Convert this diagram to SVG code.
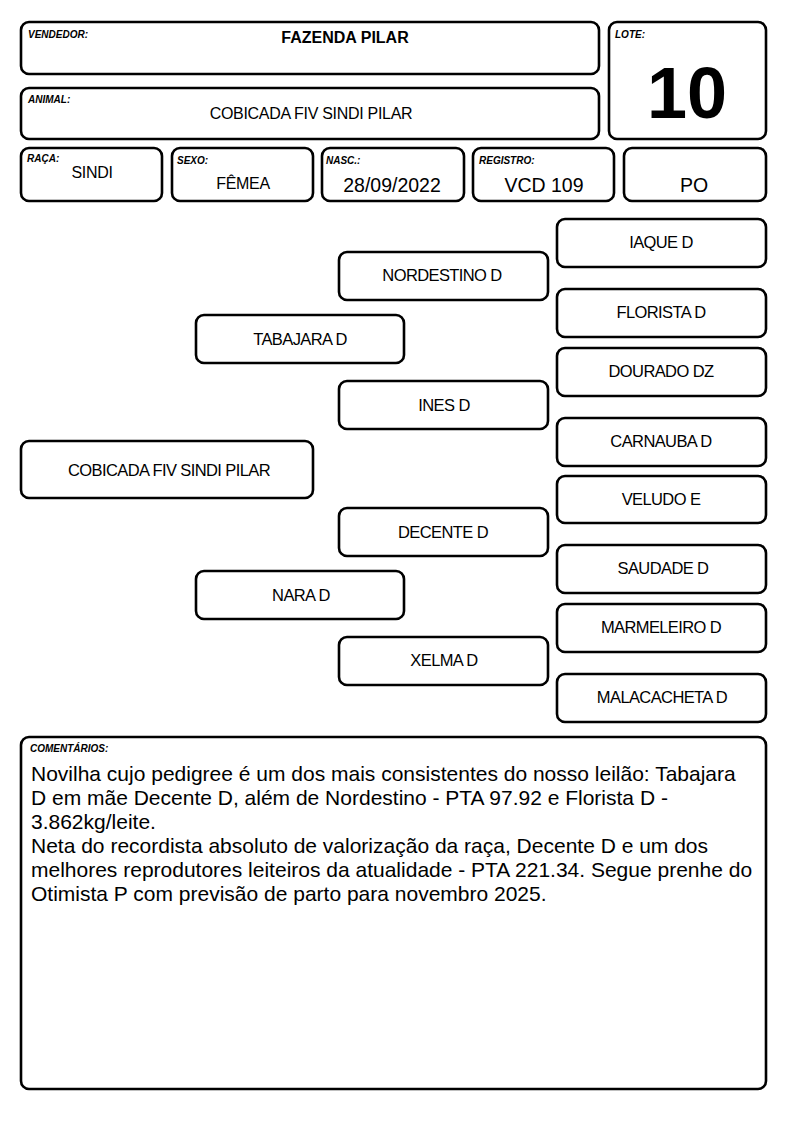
<svg xmlns="http://www.w3.org/2000/svg" width="794" height="1123" viewBox="0 0 794 1123">
<style>
rect{fill:#fff;stroke:#000;stroke-width:2.6}
text{font-family:"Liberation Sans",Arial,sans-serif;fill:#000}
.lb{font-size:10px;font-weight:bold;font-style:italic}
.v{font-size:16px;text-anchor:middle}
.v18{font-size:19.5px;text-anchor:middle}
.p{font-size:16.5px;letter-spacing:-0.6px;text-anchor:middle}
.c{font-size:21px}
</style>
<rect x="0" y="0" width="794" height="1123" style="stroke:none"/>
<g id="vendedor"><rect x="21" y="22" width="578" height="52" rx="8"/><text class="lb" x="28" y="38">VENDEDOR:</text><text class="v" x="345" y="43" font-weight="bold">FAZENDA PILAR</text></g>
<g id="animal"><rect x="21" y="88" width="578" height="51" rx="8"/><text class="lb" x="28" y="103">ANIMAL:</text><text class="v" x="311" y="119" font-size="16.5" letter-spacing="-0.3">COBICADA FIV SINDI PILAR</text></g>
<g id="lote"><rect x="609" y="22" width="157" height="117" rx="8"/><text class="lb" x="615" y="38">LOTE:</text><text x="687" y="118" font-size="72" font-weight="bold" text-anchor="middle">10</text></g>
<g id="raca"><rect x="21" y="148" width="141" height="53" rx="8"/><text class="lb" x="27" y="162">RAÇA:</text><text class="v" x="92" y="178" font-size="15" letter-spacing="-0.3">SINDI</text></g>
<g id="sexo"><rect x="172" y="148" width="141" height="53" rx="8"/><text class="lb" x="177" y="164">SEXO:</text><text class="v" x="243" y="189" font-size="15" letter-spacing="-0.3">FÊMEA</text></g>
<g id="nasc"><rect x="322" y="148" width="142" height="53" rx="8"/><text class="lb" x="326" y="164">NASC.:</text><text class="v18" x="392" y="192">28/09/2022</text></g>
<g id="registro"><rect x="473" y="148" width="141" height="53" rx="8"/><text class="lb" x="479" y="164">REGISTRO:</text><text class="v18" x="544" y="192">VCD 109</text></g>
<g id="po"><rect x="624" y="148" width="142" height="53" rx="8"/><text class="v18" x="694" y="192">PO</text></g>
<g id="connectors"></g>
<g id="n-iaque"><rect x="557" y="219" width="209" height="48" rx="8"/><text class="p" x="661" y="248">IAQUE D</text></g>
<g id="n-florista"><rect x="557" y="289" width="209" height="48" rx="8"/><text class="p" x="661" y="318">FLORISTA D</text></g>
<g id="n-dourado"><rect x="557" y="348" width="209" height="48" rx="8"/><text class="p" x="661" y="377">DOURADO DZ</text></g>
<g id="n-carnauba"><rect x="557" y="418" width="209" height="48" rx="8"/><text class="p" x="661" y="447">CARNAUBA D</text></g>
<g id="n-veludo"><rect x="557" y="476" width="209" height="47" rx="8"/><text class="p" x="661" y="505">VELUDO E</text></g>
<g id="n-saudade"><rect x="557" y="545" width="209" height="48" rx="8"/><text class="p" x="663" y="574">SAUDADE D</text></g>
<g id="n-marmeleiro"><rect x="557" y="604" width="209" height="48" rx="8"/><text class="p" x="661" y="633">MARMELEIRO D</text></g>
<g id="n-malacacheta"><rect x="557" y="674" width="209" height="48" rx="8"/><text class="p" x="662" y="703">MALACACHETA D</text></g>
<g id="n-nordestino"><rect x="339" y="252" width="209" height="48" rx="8"/><text class="p" x="442" y="281">NORDESTINO D</text></g>
<g id="n-ines"><rect x="339" y="381" width="209" height="48" rx="8"/><text class="p" x="444" y="411">INES D</text></g>
<g id="n-decente"><rect x="339" y="508" width="209" height="48" rx="8"/><text class="p" x="443" y="538">DECENTE D</text></g>
<g id="n-xelma"><rect x="339" y="637" width="209" height="48" rx="8"/><text class="p" x="444" y="666">XELMA D</text></g>
<g id="n-tabajara"><rect x="196" y="315" width="208" height="48" rx="8"/><text class="p" x="300" y="345">TABAJARA D</text></g>
<g id="n-nara"><rect x="196" y="571" width="208" height="48" rx="8"/><text class="p" x="301" y="601">NARA D</text></g>
<g id="n-cobicada"><rect x="21" y="441" width="292" height="57" rx="8"/><text class="p" x="169" y="476">COBICADA FIV SINDI PILAR</text></g>
<g id="comentarios"><rect x="21" y="737" width="745" height="352" rx="8"/><text class="lb" x="30" y="752">COMENTÁRIOS:</text>
<text class="c" x="31" y="781">Novilha cujo pedigree é um dos mais consistentes do nosso leilão: Tabajara</text>
<text class="c" x="31" y="805">D em mãe Decente D, além de Nordestino - PTA 97.92 e Florista D -</text>
<text class="c" x="31" y="829">3.862kg/leite.</text>
<text class="c" x="31" y="853">Neta do recordista absoluto de valorização da raça, Decente D e um dos</text>
<text class="c" x="31" y="877">melhores reprodutores leiteiros da atualidade - PTA 221.34. Segue prenhe do</text>
<text class="c" x="31" y="901">Otimista P com previsão de parto para novembro 2025.</text>
</g>
</svg>
